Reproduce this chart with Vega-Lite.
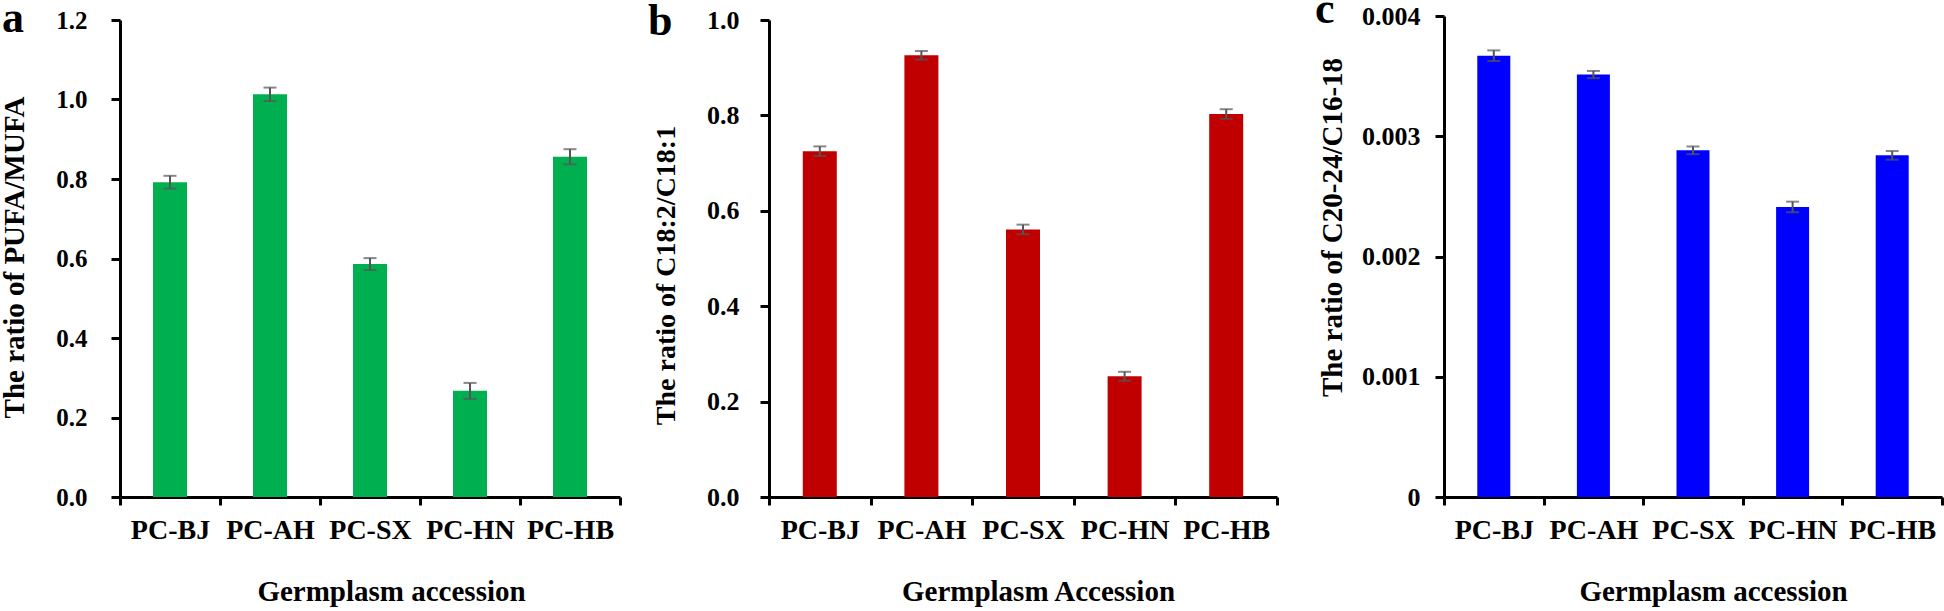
{
  "$schema": "https://vega.github.io/schema/vega-lite/v6.json",
  "autosize": "none",
  "padding": {"left": 120, "top": 16, "right": 1824, "bottom": 595},
  "background": "white",
  "config": {
    "view": {"stroke": null},
    "font": "Liberation Serif",
    "axis": {
      "domainColor": "black", "domainWidth": 3, "tickColor": "black", "tickWidth": 3,
      "labelColor": "black", "titleColor": "black",
      "labelFont": "Liberation Serif", "titleFont": "Liberation Serif",
      "labelFontWeight": "bold", "titleFontWeight": "bold", "grid": false,
      "labelOverlap": false, "labelLimit": 0, "labelFlush": false
    },
    "title": {"font": "Liberation Serif", "fontWeight": "bold", "fontSize": 44, "color": "black", "anchor": "start", "frame": "group", "baseline": "alphabetic"}
  },
  "datasets": {
    "pufa": [
      {"accession": "PC-BJ", "value": 0.792, "err": 0.016},
      {"accession": "PC-AH", "value": 1.013, "err": 0.017},
      {"accession": "PC-SX", "value": 0.586, "err": 0.015},
      {"accession": "PC-HN", "value": 0.267, "err": 0.02},
      {"accession": "PC-HB", "value": 0.856, "err": 0.019}
    ],
    "c18": [
      {"accession": "PC-BJ", "value": 0.725, "err": 0.01},
      {"accession": "PC-AH", "value": 0.926, "err": 0.009},
      {"accession": "PC-SX", "value": 0.561, "err": 0.01},
      {"accession": "PC-HN", "value": 0.253, "err": 0.0095},
      {"accession": "PC-HB", "value": 0.803, "err": 0.01}
    ],
    "c20": [
      {"accession": "PC-BJ", "value": 0.00367, "err": 0.000044},
      {"accession": "PC-AH", "value": 0.003513, "err": 0.00003},
      {"accession": "PC-SX", "value": 0.002883, "err": 0.000032},
      {"accession": "PC-HN", "value": 0.002412, "err": 0.000044},
      {"accession": "PC-HB", "value": 0.002841, "err": 0.000036}
    ]
  },
  "spacing": 149,
  "bounds": "flush",
  "hconcat": [
    {
      "width": 500, "height": 481,
      "title": {"text": "a", "dx": -118, "offset": -33},
      "data": {"name": "pufa"},
      "encoding": {
        "x": {"field": "accession", "type": "nominal", "sort": null,
          "scale": {"paddingInner": 0, "paddingOuter": 0},
          "axis": {"title": "Germplasm accession", "labelAngle": 0, "labelFontSize": 28, "titleFontSize": 29,
            "tickSize": 8, "labelPadding": 11, "labelBaseline": "top", "tickBand": "extent",
            "titleX": 271, "titleY": 103, "titleBaseline": "alphabetic", "titleAlign": "center"}},
        "y": {"field": "value", "type": "quantitative",
          "scale": {"domain": [0, 1.2], "range": [481, 4], "nice": false, "zero": true},
          "axis": {"title": "The ratio of PUFA/MUFA", "values": [0, 0.2, 0.4, 0.6, 0.8, 1.0, 1.2], "format": ".1f",
            "labelFontSize": 25, "titleFontSize": 29, "tickSize": 9, "labelPadding": 24,
            "titleX": -97, "titleY": 241, "titleBaseline": "alphabetic", "titleAngle": 270, "titleAlign": "center"}}
      },
      "layer": [
        {"mark": {"type": "bar", "color": "#00B050", "width": 34}},
        {"mark": {"type": "errorbar", "color": "#555555", "thickness": 2, "size": 13, "ticks": true},
         "encoding": {"yError": {"field": "err"}}}
      ]
    },
    {
      "width": 526, "height": 481,
      "title": {"text": "b", "dx": -121, "offset": -37},
      "data": {"name": "c18"},
      "encoding": {
        "x": {"field": "accession", "type": "nominal", "sort": null,
          "scale": {"paddingInner": 0, "paddingOuter": 0, "range": [0, 508]},
          "axis": {"title": "Germplasm Accession", "labelAngle": 0, "labelFontSize": 28, "titleFontSize": 29,
            "tickSize": 8, "labelPadding": 11, "labelBaseline": "top", "tickBand": "extent",
            "titleX": 269, "titleY": 103, "titleBaseline": "alphabetic", "titleAlign": "center"}},
        "y": {"field": "value", "type": "quantitative",
          "scale": {"domain": [0, 1.0], "range": [481, 4], "nice": false, "zero": true},
          "axis": {"title": "The ratio of C18:2/C18:1", "values": [0, 0.2, 0.4, 0.6, 0.8, 1.0], "format": ".1f",
            "labelFontSize": 26, "titleFontSize": 28, "tickSize": 9, "labelPadding": 21,
            "titleX": -95, "titleY": 259, "titleBaseline": "alphabetic", "titleAngle": 270, "titleAlign": "center"}}
      },
      "layer": [
        {"mark": {"type": "bar", "color": "#C00000", "width": 34}},
        {"mark": {"type": "errorbar", "color": "#555555", "thickness": 2, "size": 13, "ticks": true},
         "encoding": {"yError": {"field": "err"}}}
      ]
    },
    {
      "width": 498, "height": 481,
      "title": {"text": "c", "dx": -129, "offset": -29},
      "data": {"name": "c20"},
      "encoding": {
        "x": {"field": "accession", "type": "nominal", "sort": null,
          "scale": {"paddingInner": 0, "paddingOuter": 0},
          "axis": {"title": "Germplasm accession", "labelAngle": 0, "labelFontSize": 28, "titleFontSize": 29,
            "tickSize": 8, "labelPadding": 11, "labelBaseline": "top", "tickBand": "extent",
            "titleX": 269, "titleY": 103, "titleBaseline": "alphabetic", "titleAlign": "center"}},
        "y": {"field": "value", "type": "quantitative",
          "scale": {"domain": [0, 0.004], "range": [481, 0], "nice": false, "zero": true},
          "axis": {"title": "The ratio of C20-24/C16-18", "values": [0, 0.001, 0.002, 0.003, 0.004], "format": ".3~f",
            "labelFontSize": 26, "titleFontSize": 29, "tickSize": 9, "labelPadding": 15,
            "titleX": -103, "titleY": 211, "titleBaseline": "alphabetic", "titleAngle": 270, "titleAlign": "center"}}
      },
      "layer": [
        {"mark": {"type": "bar", "color": "#0000FF", "width": 33}},
        {"mark": {"type": "errorbar", "color": "#555555", "thickness": 2, "size": 13, "ticks": true},
         "encoding": {"yError": {"field": "err"}}}
      ]
    }
  ]
}
